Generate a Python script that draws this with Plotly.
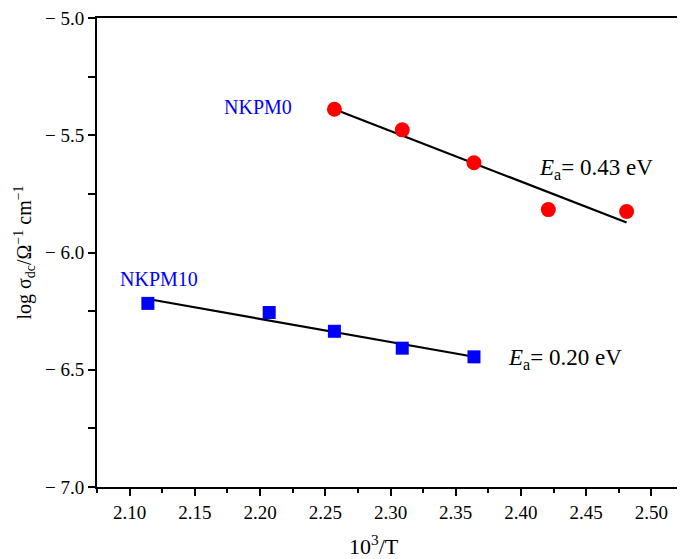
import numpy as np
import plotly.graph_objects as go

# NKPM0 data (red circles)
x_nkpm0 = [2.257, 2.309, 2.364, 2.421, 2.481]
y_nkpm0 = [-5.389, -5.477, -5.617, -5.817, -5.825]

# NKPM10 data (blue squares)
x_nkpm10 = [2.114, 2.207, 2.257, 2.309, 2.364]
y_nkpm10 = [-6.217, -6.256, -6.336, -6.408, -6.445]

x_ticks = [2.10, 2.15, 2.20, 2.25, 2.30, 2.35, 2.40, 2.45, 2.50]
x_ticklabels = ["2.10", "2.15", "2.20", "2.25", "2.30", "2.35", "2.40", "2.45", "2.50"]
y_ticks = [-7.0, -6.5, -6.0, -5.5, -5.0]
y_ticklabels = ["\u2212 7.0", "\u2212 6.5", "\u2212 6.0", "\u2212 5.5", "\u2212 5.0"]

FONT = "Liberation Serif, Times New Roman, serif"

fig = go.Figure()

def fit_line(xs, ys):
    p = np.polyfit(xs, ys, 1)
    xx = np.array([min(xs), max(xs)])
    return xx, np.polyval(p, xx)

for xs, ys in [(x_nkpm0, y_nkpm0), (x_nkpm10, y_nkpm10)]:
    fx, fy = fit_line(xs, ys)
    fig.add_trace(go.Scatter(x=fx, y=fy, mode="lines",
                             line=dict(color="black", width=2.2),
                             showlegend=False, hoverinfo="skip"))

fig.add_trace(go.Scatter(x=x_nkpm0, y=y_nkpm0, mode="markers", name="NKPM0",
                         marker=dict(symbol="circle", size=15, color="#FF0000",
                                     line=dict(width=0)),
                         showlegend=False))
fig.add_trace(go.Scatter(x=x_nkpm10, y=y_nkpm10, mode="markers", name="NKPM10",
                         marker=dict(symbol="square", size=13, color="#0000FF",
                                     line=dict(width=0)),
                         showlegend=False))

ann_font = dict(family=FONT, size=20, color="#0000FF")
fig.add_annotation(x=2.1985, y=-5.380, xref="x", yref="y", text="NKPM0",
                   showarrow=False, font=ann_font)
fig.add_annotation(x=2.1227, y=-6.113, xref="x", yref="y", text="NKPM10",
                   showarrow=False, font=ann_font)
ea_font = dict(family=FONT, size=23, color="black")
fig.add_annotation(x=2.4574, y=-5.645, xref="x", yref="y",
                   text="<i>E</i><sub>a</sub>= 0.43 eV", showarrow=False, font=ea_font)
fig.add_annotation(x=2.434, y=-6.455, xref="x", yref="y",
                   text="<i>E</i><sub>a</sub>= 0.20 eV", showarrow=False, font=ea_font)

# x-axis title (slightly left of centre, as in the reference)
fig.add_annotation(x=0.472, y=0, xref="paper", yref="paper", text="10<sup>3</sup>/T",
                   showarrow=False, yanchor="middle", yshift=-58,
                   font=dict(family=FONT, size=22, color="black"))

axis_common = dict(showgrid=False, zeroline=False, showline=True, linecolor="black",
                   linewidth=2, mirror=True, ticks="outside", tickcolor="black",
                   tickwidth=2, ticklen=7, ticklabeloverflow="allow", automargin=False,
                   tickfont=dict(family=FONT, size=19, color="black"))

fig.update_xaxes(range=[2.075, 2.525], tickvals=x_ticks, ticktext=x_ticklabels,
                 minor=dict(ticks="outside", ticklen=4, tickwidth=2, tickcolor="black",
                            tick0=2.075, dtick=0.05),
                 **axis_common)
fig.update_yaxes(range=[-7.0, -5.0], tickvals=y_ticks, ticktext=y_ticklabels,
                 minor=dict(ticks="outside", ticklen=7, tickwidth=2, tickcolor="black",
                            tick0=-6.75, dtick=0.5),
                 title=dict(text="log σ<sub>dc</sub>/Ω<sup>−1</sup> cm<sup>−1</sup>",
                            font=dict(family=FONT, size=20, color="black"), standoff=8),
                 **axis_common)

# page body has an 8px margin: shift figure so plot area matches reference pixels
fig.update_layout(width=677, height=551, plot_bgcolor="white", paper_bgcolor="white",
                  margin=dict(l=89, r=1, t=10, b=72, autoexpand=False), showlegend=False)

fig.write_html("out.html")
